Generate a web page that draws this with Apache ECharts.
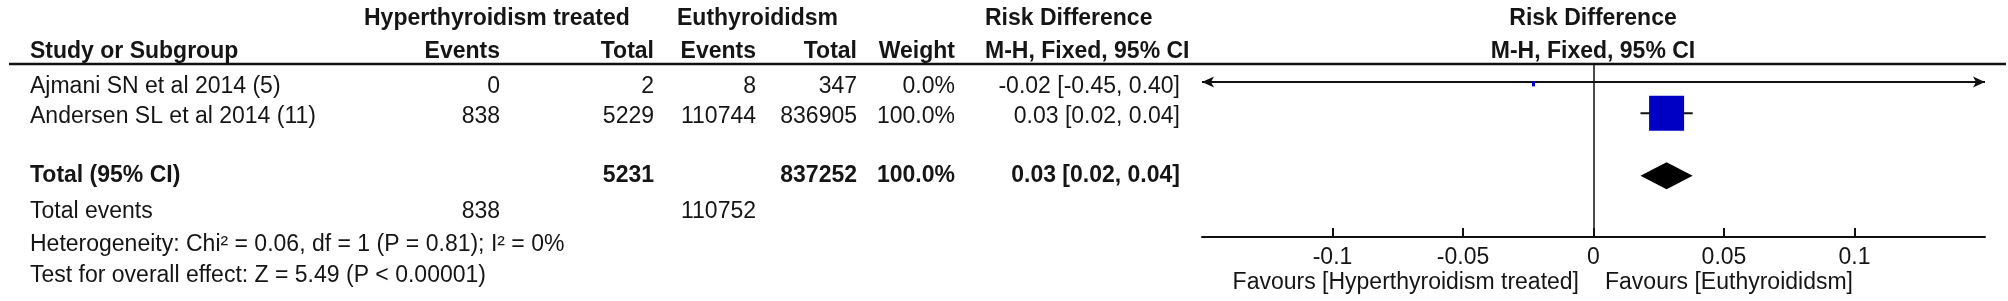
<!DOCTYPE html>
<html>
<head>
<meta charset="utf-8">
<script src="https://cdn.jsdelivr.net/npm/echarts@6/dist/echarts.min.js"></script>
<style>
  html, body { margin: 0; padding: 0; background: #fff; }
  #chart { width: 2008px; height: 301px; }
</style>
</head>
<body>
<div id="chart"></div>
<script>
// study data
var studies = ["Ajmani SN et al 2014 (5)", "Andersen SL et al 2014 (11)"];
var htEvents = [0, 838];
var htTotal = [2, 5229];
var euEvents = [8, 110744];
var euTotal = [347, 836905];
var weights = [0.0, 100.0];
var rd = [-0.023, 0.028];
var ciLow = [-0.45, 0.018];
var ciHigh = [0.40, 0.038];

// pooled
var totalHt = 5231;
var totalEu = 837252;
var totalWeight = 100.0;
var totalRd = 0.028;
var totalLow = 0.018;
var totalHigh = 0.038;
var totalEventsHt = 838;
var totalEventsEu = 110752;
var heterogeneity = "Heterogeneity: Chi² = 0.06, df = 1 (P = 0.81); I² = 0%";
var overallTest = "Test for overall effect: Z = 5.49 (P < 0.00001)";

var tickVals = [-0.1, -0.05, 0, 0.05, 0.1];
var favoursLeft = "Favours [Hyperthyroidism treated]";
var favoursRight = "Favours [Euthyroididsm]";

// layout (row index on the plot, blank row before the total)
var rowPos = [0, 1];
var totalPos = 3;
var textRows = [87, 117, 176, 212, 245, 276];
var FONT = "'Liberation Sans', Arial, sans-serif";
var FS = 23;
var INK = "#151515";

function fmt(v) { return (Math.abs(v) < 0.005 ? 0 : v).toFixed(2); }
function ciText(m, l, h) { return fmt(m) + " [" + fmt(l) + ", " + fmt(h) + "]"; }

function txt(s, x, y, align, bold) {
  return {
    type: "text", x: x, y: y, silent: true,
    style: {
      text: String(s), fill: INK, fontSize: FS, fontFamily: FONT,
      fontWeight: bold ? "bold" : "normal",
      align: align || "left", verticalAlign: "middle"
    }
  };
}

var cols = { ev1: 500, tot1: 654, ev2: 756, tot2: 857, w: 955, rd: 1180 };
var zeroX = 1593;

var graphics = [
  txt("Hyperthyroidism treated", 364, 19, "left", true),
  txt("Euthyroididsm", 677, 19, "left", true),
  txt("Risk Difference", 985, 19, "left", true),
  txt("Risk Difference", zeroX, 19, "center", true),
  txt("Study or Subgroup", 30, 52, "left", true),
  txt("Events", cols.ev1, 52, "right", true),
  txt("Total", cols.tot1, 52, "right", true),
  txt("Events", cols.ev2, 52, "right", true),
  txt("Total", cols.tot2, 52, "right", true),
  txt("Weight", cols.w, 52, "right", true),
  txt("M-H, Fixed, 95% CI", 985, 52, "left", true),
  txt("M-H, Fixed, 95% CI", zeroX, 52, "center", true),
  {
    type: "line", silent: true,
    shape: { x1: 9, y1: 64, x2: 2006, y2: 64 },
    style: { stroke: "#111", lineWidth: 2.5 }
  }
];

studies.forEach(function (s, i) {
  var y = textRows[i];
  graphics.push(
    txt(s, 30, y, "left"),
    txt(htEvents[i], cols.ev1, y, "right"),
    txt(htTotal[i], cols.tot1, y, "right"),
    txt(euEvents[i], cols.ev2, y, "right"),
    txt(euTotal[i], cols.tot2, y, "right"),
    txt(weights[i].toFixed(1) + "%", cols.w, y, "right"),
    txt(ciText(rd[i], ciLow[i], ciHigh[i]), cols.rd, y, "right")
  );
});

graphics.push(
  txt("Total (95% CI)", 30, textRows[2], "left", true),
  txt(totalHt, cols.tot1, textRows[2], "right", true),
  txt(totalEu, cols.tot2, textRows[2], "right", true),
  txt(totalWeight.toFixed(1) + "%", cols.w, textRows[2], "right", true),
  txt(ciText(totalRd, totalLow, totalHigh), cols.rd, textRows[2], "right", true),
  txt("Total events", 30, textRows[3], "left"),
  txt(totalEventsHt, cols.ev1, textRows[3], "right"),
  txt(totalEventsEu, cols.ev2, textRows[3], "right"),
  txt(heterogeneity, 30, textRows[4], "left"),
  txt(overallTest, 30, textRows[5], "left"),
  txt(favoursLeft, zeroX - 14, 283, "right"),
  txt(favoursRight, zeroX + 12, 283, "left")
);

var XMIN = -0.15, XMAX = 0.15;
var studyData = studies.map(function (s, i) {
  return [rd[i], ciLow[i], ciHigh[i], rowPos[i], weights[i]];
});

function renderStudy(params, api) {
  var m = api.value(0), lo = api.value(1), hi = api.value(2), y = api.value(3), w = api.value(4);
  var l = Math.max(lo, XMIN), h = Math.min(hi, XMAX);
  var p1 = api.coord([l, y]), p2 = api.coord([h, y]), c = api.coord([m, y]);
  var kids = [{
    type: "line",
    shape: { x1: p1[0], y1: p1[1], x2: p2[0], y2: p2[1] },
    style: { stroke: "#111", lineWidth: 2 }
  }];
  if (lo < XMIN) {
    kids.push({ type: "polygon", shape: { points: [[p1[0], p1[1]], [p1[0] + 12, p1[1] - 5.5], [p1[0] + 9, p1[1]], [p1[0] + 12, p1[1] + 5.5]] }, style: { fill: "#111" } });
  }
  if (hi > XMAX) {
    kids.push({ type: "polygon", shape: { points: [[p2[0], p2[1]], [p2[0] - 12, p2[1] - 5.5], [p2[0] - 9, p2[1]], [p2[0] - 12, p2[1] + 5.5]] }, style: { fill: "#111" } });
  }
  var side = 35 * Math.sqrt(w / 100);
  var bw = Math.max(3, side), bh = Math.max(5, side);
  kids.push({
    type: "rect",
    shape: { x: c[0] - bw / 2, y: c[1] - bh / 2 + (w < 1 ? 2 : 0), width: bw, height: bh },
    style: { fill: "#0000c4" }
  });
  return { type: "group", children: kids };
}

function renderDiamond(params, api) {
  var m = api.value(0), lo = api.value(1), hi = api.value(2), y = api.value(3);
  var c = api.coord([m, y]), a = api.coord([lo, y]), b = api.coord([hi, y]);
  var half = 13.5;
  return {
    type: "polygon",
    shape: { points: [[a[0], c[1]], [c[0], c[1] - half], [b[0], c[1]], [c[0], c[1] + half]] },
    style: { fill: "#000" }
  };
}

var chart = echarts.init(document.getElementById("chart"));
var option = {
  animation: false,
  backgroundColor: "#fff",
  textStyle: { fontFamily: FONT },
  grid: { left: 1202, right: 23, top: 64, bottom: 64, containLabel: false },
  xAxis: {
    type: "value",
    min: XMIN,
    max: XMAX,
    interval: 0.05,
    splitLine: { show: false },
    axisLine: { show: true, onZero: false, lineStyle: { color: "#111", width: 2 } },
    axisTick: { show: true, inside: true, length: 9, customValues: tickVals, lineStyle: { color: "#111", width: 2 } },
    axisLabel: { show: true, customValues: tickVals, fontSize: FS, color: INK, fontFamily: FONT, margin: 9 }
  },
  yAxis: {
    type: "value",
    inverse: true,
    min: -0.571,
    max: 4.952,
    show: false,
    splitLine: { show: false }
  },
  series: [
    {
      name: "studies",
      type: "custom",
      renderItem: renderStudy,
      data: studyData,
      clip: false,
      markLine: {
        silent: true,
        symbol: "none",
        label: { show: false },
        lineStyle: { color: "#111", width: 1.5, type: "solid" },
        data: [{ xAxis: 0 }]
      }
    },
    {
      name: "total",
      type: "custom",
      renderItem: renderDiamond,
      data: [[totalRd, totalLow, totalHigh, totalPos]]
    }
  ],
  graphic: graphics
};
chart.setOption(option);
</script>
</body>
</html>
